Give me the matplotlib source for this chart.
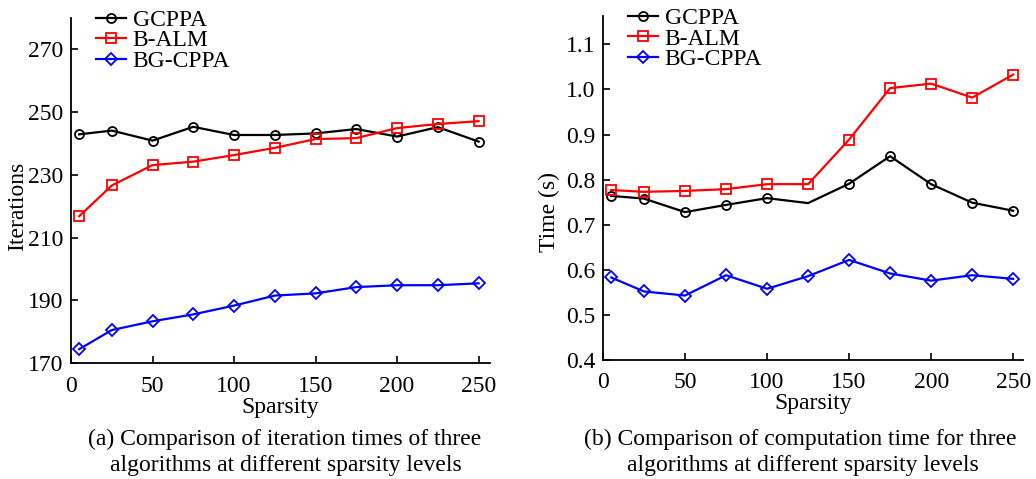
import matplotlib
matplotlib.use("Agg")
import matplotlib.pyplot as plt

plt.rcParams['font.family'] = ['Liberation Serif', 'DejaVu Serif']
plt.rcParams['font.size'] = 17

# 稀疏度
sparsity = [5, 25, 50, 75, 100, 125, 150, 175, 200, 225, 250]

# (a) 迭代次数
iter_gcppa = [242.9, 244.1, 240.9, 245.3, 242.7, 242.7, 243.2, 244.6, 242.2, 245.2, 240.6]
iter_balm = [216.8, 226.6, 233.1, 234.2, 236.3, 238.6, 241.4, 241.7, 244.9, 246.2, 247.1]
iter_bgcppa = [174.4, 180.5, 183.3, 185.5, 188.3, 191.5, 192.2, 194.2, 194.8, 194.8, 195.4]

# (b) 计算时间
time_gcppa = [0.764, 0.758, 0.728, 0.744, 0.759, 0.748, 0.791, 0.852, 0.790, 0.749, 0.731]
time_balm = [0.777, 0.773, 0.775, 0.779, 0.790, 0.790, 0.889, 1.003, 1.013, 0.982, 1.033]
time_bgcppa = [0.583, 0.552, 0.543, 0.588, 0.558, 0.586, 0.622, 0.592, 0.576, 0.588, 0.580]

names = ['GCPPA', 'B-ALM', 'BG-CPPA']
colors = ['black', 'red', 'blue']
markers = ['o', 's', 'D']
msizes = [6.5, 6.5, 6]

W, H = 1036, 479
fig = plt.figure(figsize=(W / 100, H / 100), dpi=100)

def px_axes(x0, y0, x1, y1):
    return fig.add_axes([x0 / W, 1 - y1 / H, (x1 - x0) / W, (y1 - y0) / H])

ax1 = px_axes(71, 18, 490, 363)
ax2 = px_axes(603, 16, 1023, 360)

def draw(ax, series, skip=None):
    for i, (ys, name) in enumerate(zip(series, names)):
        idx = list(range(len(sparsity)))
        # 右图 GCPPA 在 125 处没有标记
        if skip is not None and skip[0] == i:
            idx = [k for k in idx if k != skip[1]]
        ax.plot(sparsity, ys, color=colors[i], marker=markers[i], ms=msizes[i],
                mfc='none', mec=colors[i], mew=1.3, lw=1.6, label=name, markevery=idx)
    for s in ['top', 'right']:
        ax.spines[s].set_visible(False)
    for s in ['left', 'bottom']:
        ax.spines[s].set_linewidth(1.3)
    ax.tick_params(direction='in', length=5, width=1.2)
    ax.tick_params(axis='x', pad=9)
    ax.tick_params(axis='y', pad=5.5)
    ax.set_xticks([0, 50, 100, 150, 200, 250])
    ax.set_xlabel('Sparsity', labelpad=0)
    leg = ax.legend(loc='upper left', frameon=False, handlelength=1.25,
                    handletextpad=0.3, labelspacing=-0.04, borderpad=0,
                    borderaxespad=0, fontsize=17)
    return leg

leg1 = draw(ax1, [iter_gcppa, iter_balm, iter_bgcppa])
ax1.set_xlim(0, 257)
ax1.set_ylim(170, 280)
ax1.set_yticks([170, 190, 210, 230, 250, 270])
ax1.set_ylabel('Iterations')
ax1.yaxis.set_label_coords(-0.103, 0.455)
leg1.set_bbox_to_anchor((25 / 419, 1.025))

leg2 = draw(ax2, [time_gcppa, time_balm, time_bgcppa], skip=(0, 5))
ax2.set_xlim(0, 256)
ax2.set_ylim(0.4, 1.163)
ax2.set_yticks([0.4, 0.5, 0.6, 0.7, 0.8, 0.9, 1.0, 1.1])
ax2.set_yticklabels(['0.4', '0.5', '0.6', '0.7', '0.8', '0.9', '1.0', '1.1'])
ax2.set_ylabel('Time (s)')
ax2.yaxis.set_label_coords(-0.102, 0.43)
leg2.set_bbox_to_anchor((25 / 420, 1.025))

fig.text(285 / W, 1 - 439 / H, '(a) Comparison of iteration times of three',
         ha='center', va='center', fontsize=17)
fig.text(286 / W, 1 - 466 / H, 'algorithms at different sparsity levels',
         ha='center', va='center', fontsize=17)
fig.text(800 / W, 1 - 439 / H, '(b) Comparison of computation time for three',
         ha='center', va='center', fontsize=17)
fig.text(803 / W, 1 - 466 / H, 'algorithms at different sparsity levels',
         ha='center', va='center', fontsize=17)

fig.savefig('out.png', dpi=100)
